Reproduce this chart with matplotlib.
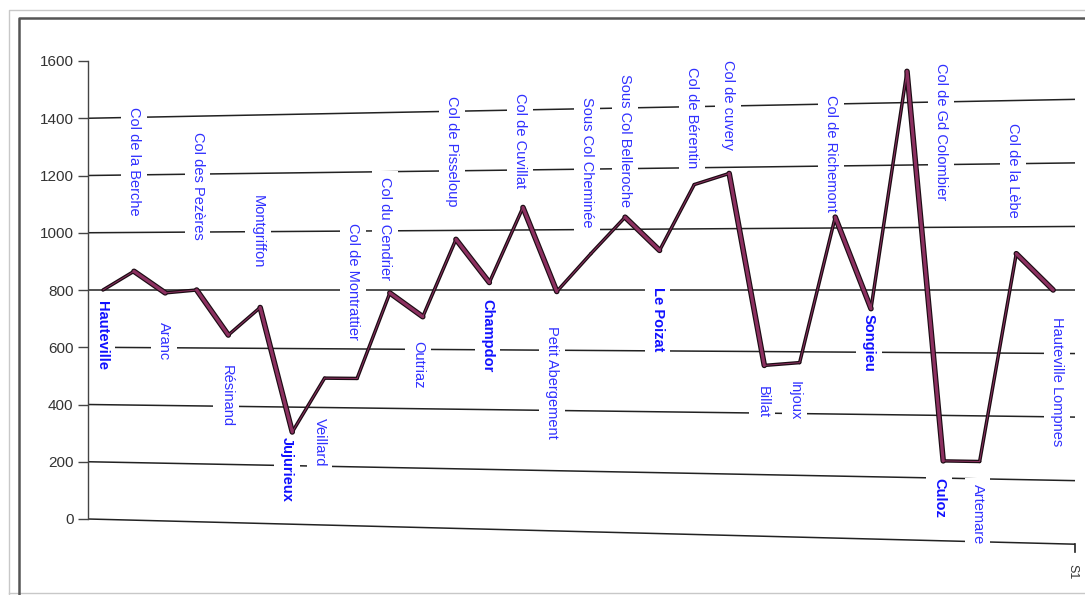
import matplotlib

matplotlib.use("Agg")
import matplotlib.pyplot as plt
import matplotlib.transforms as mtransforms
from matplotlib.collections import LineCollection
from matplotlib.lines import Line2D
import numpy as np

plt.rcParams["font.family"] = ["Liberation Sans", "DejaVu Sans"]

# route profile: stop names and altitude (m)
stops = [
    "Hauteville", "Col de la Berche", "Aranc", "Col des Pezères", "Résinand",
    "Montgriffon", "Jujurieux", "Veillard", "Col de Montrattier", "Col du Cendrier",
    "Outriaz", "Col de Pisseloup", "Champdor", "Col de Cuvillat", "Petit Abergement",
    "Sous Col Cheminée", "Sous Col Belleroche", "Le Poizat", "Col de Bérentin",
    "Col de cuvery", "Billat", "Injoux", "Col de Richemont", "Songieu",
    "Col de Gd Colombier", "Culoz", "Artemare", "Col de la Lèbe", "Hauteville Lompnes",
]
elevation = [
    800, 865, 790, 800, 645, 740, 315, 500, 500, 790,
    710, 970, 825, 1075, 795, 920, 1040, 930, 1145, 1180,
    555, 565, 1035, 740, 1500, 255, 255, 915, 800,
]
bold_stops = ["Hauteville", "Jujurieux", "Champdor", "Le Poizat", "Songieu", "Culoz"]
y_ticks = [0, 200, 400, 600, 800, 1000, 1200, 1400, 1600]
grid_levels = [0, 200, 400, 600, 800, 1000, 1200, 1400]
series_name = "S1"

# label placement (pixels from the point): above/below, vertical gap, sideways shift
label_above = [
    False, True, False, True, False, True, False, False, True, True,
    False, True, False, True, False, True, True, False, True, True,
    False, False, True, False, False, False, False, True, False,
]
label_dy = [
    -11, 56, -29, 50, -30, 39, -5, -40, 39, 13,
    -24, 33, -16, 19, -34, 26, 10, -37, 16, 23,
    -21, -18, 5, -5, 8, -17, -22, 36, -27,
]
label_dx = [
    -1, 0, -1, 1, -2, -2, -5, -5, -4, -5,
    -5, -4, -2, -3, -5, -4, 0, -2, -2, -1,
    -2, -5, -4, -2, 34, -4, -2, -3, 4,
]

W, H = 1085, 595
SKEW_Y = 0.11     # gridlines fan out to the right (scanned, tilted original)
BEND_X = 0.093    # spacing widens to the right
Y_MAX = 1600
PIVOT = 800

DARK = "#1c0c14"
MAROON = "#8c3060"
BLUE = "#3030ff"


class PerspectiveWarp(mtransforms.Transform):
    """Warp in axes-fraction space to imitate the skewed scan."""
    input_dims = 2
    output_dims = 2

    def __init__(self, skew, bend, pivot):
        super().__init__()
        self.skew, self.bend, self.pivot = skew, bend, pivot

    def transform_non_affine(self, values):
        v = np.asarray(values, dtype=float)
        u, w = v[:, 0], v[:, 1]
        xw = u + self.bend * u * (u - 1)
        yw = self.pivot + (w - self.pivot) * (1 + self.skew * xw)
        return np.column_stack([xw, yw])


fig = plt.figure(figsize=(W / 100, H / 100), dpi=100)
ax = fig.add_axes([88 / W, 76 / H, 987 / W, 458 / H])
ax.set_autoscale_on(False)
x_lo, x_hi = -0.486, len(elevation) - 1 + 0.59
ax.set_xlim(x_lo, x_hi)
ax.set_ylim(0, Y_MAX)

warp = (ax.transData + ax.transAxes.inverted()
        + PerspectiveWarp(SKEW_Y, BEND_X, PIVOT / Y_MAX) + ax.transAxes)

# gridlines
for lv in grid_levels:
    ax.plot([x_lo, x_hi], [lv, lv], transform=warp, color="#222222", lw=1.1,
            zorder=1, clip_on=False, solid_capstyle="butt")

# profile line: falling stretches show the maroon face, rising ones stay dark
xs = np.arange(len(elevation))
pts = np.column_stack([xs, elevation])
segs = np.stack([pts[:-1], pts[1:]], axis=1)
falling = np.diff(elevation) < 0
styles = [(falling, 4.0, 2.3), (~falling, 2.5, 0.7)]
for sel, lw_out, _ in styles:
    ax.add_collection(LineCollection(segs[sel], linewidths=lw_out, colors=DARK,
                                     transform=warp, capstyle="round",
                                     joinstyle="round", zorder=4, clip_on=False))
for sel, _, lw_in in styles:
    ax.add_collection(LineCollection(segs[sel], linewidths=lw_in, colors=MAROON,
                                     transform=warp, capstyle="round",
                                     joinstyle="round", zorder=5, clip_on=False))

# stop labels
for i, name in enumerate(stops):
    bold = name in bold_stops
    ax.annotate(name, xy=(i, elevation[i]), xycoords=warp,
                xytext=(label_dx[i], label_dy[i]), textcoords="offset pixels",
                rotation=270, ha="center",
                va="bottom" if label_above[i] else "top",
                fontsize=10.5, color="#1010ff" if bold else BLUE,
                fontweight="bold" if bold else "normal",
                bbox=dict(boxstyle="square,pad=0.4", fc="white", ec="none"),
                zorder=3, annotation_clip=False)

# series tick at the right end
ax.plot([x_hi, x_hi], [0, -25], transform=warp, color="#222222", lw=1.2,
        clip_on=False, zorder=2)
ax.annotate(series_name, xy=(x_hi, 0), xycoords=warp, xytext=(-3, -20),
            textcoords="offset pixels", rotation=270, ha="center", va="top",
            fontsize=9, color="#333333", annotation_clip=False)

ax.set_yticks(y_ticks)
ax.set_xticks([])
ax.tick_params(axis="y", direction="out", length=7, width=1, color="#444444",
               labelsize=11, labelcolor="#333333", pad=3.5)
for side in ["top", "right", "bottom"]:
    ax.spines[side].set_visible(False)
ax.spines["left"].set_color("#444444")
ax.spines["left"].set_linewidth(1.0)
ax.spines["left"].set_zorder(6)
ax.patch.set_alpha(0)


def fig_line(xp, yp, **kw):
    fig.add_artist(Line2D([x / W for x in xp], [1 - y / H for y in yp],
                          transform=fig.transFigure, **kw))


# scanned frame edges
fig_line([9, 9, W], [H, 10, 10], color="#c8c8c8", lw=1.0)
fig_line([9, W], [593, 593], color="#c8c8c8", lw=1.0)
fig_line([19, 19, W], [H, 18, 18], color="#555555", lw=1.8)

fig.savefig("out.png", dpi=100)
plt.close(fig)
